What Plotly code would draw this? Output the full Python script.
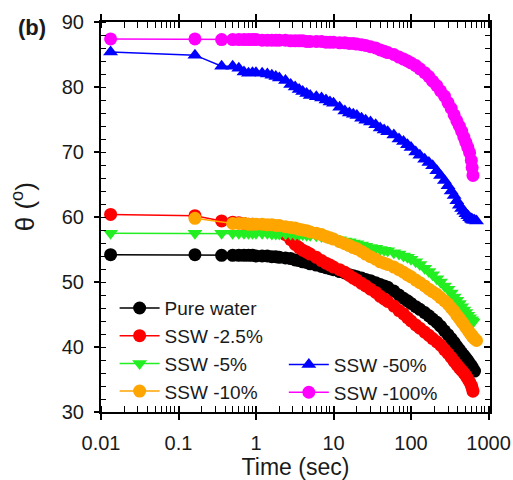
import plotly.graph_objects as go

# Time (s) sample points
time_s = [0.0133, 0.163, 0.36, 0.5, 0.6, 0.7, 0.8, 0.9, 1.0, 1.2,
          1.4, 1.6, 1.8, 2.0, 2.4, 2.8, 3.2, 3.6, 4, 4.5,
          5, 6, 7, 8, 9, 10, 12, 14, 16, 18,
          20, 23, 26, 30, 35, 40, 45, 50, 60, 70,
          80, 90, 100, 115, 130, 150, 170, 190, 215, 240,
          270, 300, 330, 360, 390, 420, 450, 480, 510, 540,
          570, 600, 615, 630, 660, 700]

pure_water = [54.2, 54.2, 54.1, 54.1, 54.1, 54.1, 54.1, 54.1, 54.0, 54.0,
              54.0, 53.9, 53.9, 53.8, 53.7, 53.6, 53.4, 53.3, 53.1, 53.0,
              52.8, 52.6, 52.4, 52.2, 52.05, 51.9, 51.6, 51.4, 51.1, 50.95,
              50.8, 50.6, 50.4, 50.2, 49.9, 49.6, 49.4, 49.2, 48.6, 48.0,
              47.5, 47.1, 46.7, 46.2, 45.8, 45.3, 44.8, 44.3, 43.8, 43.2,
              42.5, 41.9, 41.3, 40.7, 40.1, 39.6, 39.1, 38.7, 38.3, 37.9,
              37.5, 37.1, 36.9, 36.6, 36.3, None]

ssw_2_5 = [60.4, 60.2, 59.4, 59.2, 59.1, 59.0, 58.9, 58.9, 58.8, 58.7,
           58.5, 58.3, 58.1, 57.9, 57.3, 56.5, 55.8, 55.3, 54.9, 54.6,
           54.3, 53.8, 53.3, 52.9, 52.6, 52.3, 51.9, 51.5, 51.0, 50.6,
           50.3, 49.8, 49.4, 48.9, 48.4, 47.8, 47.4, 47.0, 46.3, 45.6,
           45.1, 44.5, 44.0, 43.4, 42.9, 42.3, 41.8, 41.3, 40.8, 40.3,
           39.6, 39.0, 38.4, 37.8, 37.3, 36.8, 36.4, 36.0, 35.6, 35.1,
           34.6, 34.1, 33.7, 33.2, None, None]

ssw_5 = [57.5, 57.5, 57.5, 57.5, 57.5, 57.5, 57.5, 57.5, 57.5, 57.5,
         57.5, 57.4, 57.4, 57.4, 57.4, 57.4, 57.3, 57.3, 57.3, 57.2,
         57.2, 57.1, 57.0, 56.9, 56.8, 56.7, 56.5, 56.3, 56.2, 56.0,
         55.9, 55.7, 55.5, 55.3, 55.2, 55.0, 54.9, 54.8, 54.5, 54.3,
         54.0, 53.8, 53.5, 53.1, 52.7, 52.1, 51.6, 51.1, 50.5, 50.0,
         49.4, 48.9, 48.3, 47.7, 47.2, 46.7, 46.2, 45.7, 45.3, 44.9,
         44.5, 44.2, 44.0, 43.8, None, None]

ssw_10 = [None, 59.8, None, 59.0, 59.0, 59.0, 58.9, 58.9, 58.9, 58.9,
          58.8, 58.8, 58.7, 58.7, 58.5, 58.4, 58.3, 58.1, 58.0, 57.9,
          57.7, 57.5, 57.3, 57.0, 56.8, 56.6, 56.2, 55.9, 55.6, 55.3,
          55.1, 54.7, 54.3, 53.9, 53.5, 53.1, 52.9, 52.7, 52.3, 51.9,
          51.5, 51.1, 50.8, 50.3, 49.9, 49.4, 48.9, 48.5, 48.1, 47.6,
          47.1, 46.6, 46.0, 45.5, 44.9, 44.4, 43.9, 43.5, 43.0, 42.6,
          42.2, 41.9, 41.7, 41.5, 41.3, 41.0]

ssw_50 = [85.4, 84.9, 83.2, 83.2, 82.9, 82.3, 82.1, 82.2, 82.2, 82.1,
          82.0, 81.8, 81.6, 81.4, 81.0, 80.4, 80.0, 79.6, 79.3, 79.0,
          78.7, 78.5, 78.3, 78.0, 77.7, 77.5, 76.9, 76.3, 76.0, 75.8,
          75.6, 75.2, 74.9, 74.6, 74.2, 73.7, 73.4, 73.1, 72.6, 72.0,
          71.6, 71.1, 70.7, 70.0, 69.5, 68.9, 68.4, 67.9, 67.1, 66.4,
          65.6, 64.8, 64.0, 63.3, 62.5, 61.8, 61.3, 60.9, 60.5, 60.2,
          59.9, 59.7, 59.6, 59.5, 59.5, 59.4]

ssw_100 = [87.4, 87.4, 87.3, 87.3, 87.3, 87.3, 87.3, 87.3, 87.3, 87.2,
           87.2, 87.2, 87.2, 87.2, 87.2, 87.1, 87.1, 87.1, 87.1, 87.0,
           87.0, 87.0, 87.0, 86.9, 86.9, 86.9, 86.8, 86.8, 86.7, 86.7,
           86.6, 86.5, 86.4, 86.2, 86.0, 85.7, 85.5, 85.3, 85.0, 84.6,
           84.3, 84.0, 83.7, 83.3, 82.8, 82.2, 81.6, 80.9, 80.2, 79.4,
           78.6, 77.6, 76.7, 75.7, 74.8, 74.0, 73.2, 72.3, 71.5, 70.7,
           69.9, 68.7, 67.6, 66.4, None, None]

series_names = ["Pure water", "SSW -2.5%", "SSW -5%", "SSW -10%", "SSW -50%", "SSW -100%"]
series_values = [pure_water, ssw_2_5, ssw_5, ssw_10, ssw_50, ssw_100]
series_colors = ["#000000", "#ff0000", "#22ee22", "#ffa500", "#0000ff", "#ff00ff"]
series_symbols = ["circle", "circle", "triangle-down", "circle", "triangle-up", "circle"]
series_legend = ["legend", "legend", "legend", "legend", "legend2", "legend2"]

x_tick_vals = [0.01, 0.1, 1, 10, 100, 1000]
x_tick_text = ["0.01", "0.1", "1", "10", "100", "1000"]
x_minor_vals = [m * d for d in [0.01, 0.1, 1, 10, 100, 1000] for m in range(2, 10)]

fig = go.Figure()
for name, vals, col, sym, leg in zip(series_names, series_values, series_colors,
                                     series_symbols, series_legend):
    fig.add_trace(go.Scatter(
        x=time_s, y=vals, mode="lines+markers", name=name, connectgaps=True,
        line=dict(color=col, width=1.5),
        marker=dict(symbol=sym, size=13, color=col, line=dict(width=0)),
        legend=leg))

# helper trace for right-hand axis ticks
fig.add_trace(go.Scatter(x=[1], y=[None], yaxis="y2", showlegend=False,
                         hoverinfo="skip", mode="markers"))

font_family = "Liberation Sans, Arial, sans-serif"
fig.update_layout(
    width=513, height=480,
    margin=dict(l=101, r=23, t=22, b=68),
    plot_bgcolor="white", paper_bgcolor="white",
    font=dict(family=font_family, color="#1a1a1a", size=19),
    xaxis=dict(
        type="log", range=[-2, 3.019], automargin=False,
        tickmode="array", tickvals=x_tick_vals, ticktext=x_tick_text,
        ticks="outside", ticklen=6, tickwidth=1.5, tickcolor="black",
        showline=True, linewidth=2, linecolor="black", mirror="allticks",
        minor=dict(tickmode="array", tickvals=x_minor_vals, ticks="inside",
                   ticklen=5, tickwidth=1, tickcolor="black", showgrid=False),
        showgrid=False, zeroline=False,
        tickfont=dict(size=20), ticklabelstandoff=6,
        title=dict(text="Time (sec)", font=dict(size=23), standoff=2),
    ),
    yaxis=dict(
        range=[30, 90], dtick=10, tick0=30, automargin=False,
        ticks="outside", ticklen=5, tickwidth=1.5, tickcolor="black",
        showline=True, linewidth=2, linecolor="black", mirror=True,
        minor=dict(dtick=2, ticks="inside", ticklen=5, tickwidth=1,
                   tickcolor="black", showgrid=False),
        showgrid=False, zeroline=False,
        tickfont=dict(size=20), ticklabelstandoff=6,
    ),
    yaxis2=dict(
        overlaying="y", side="right", anchor="x", automargin=False,
        range=[30, 90], dtick=10, tick0=30,
        ticks="inside", ticklen=6, tickwidth=1.5, tickcolor="black",
        showticklabels=False, showline=False, showgrid=False, zeroline=False,
        minor=dict(dtick=2, ticks="inside", ticklen=5, tickwidth=1,
                   tickcolor="black", showgrid=False),
    ),
    legend=dict(x=0.035, y=0.315, xanchor="left", yanchor="top",
                bgcolor="rgba(0,0,0,0)", font=dict(size=19),
                itemwidth=40, tracegroupgap=0),
    legend2=dict(x=0.47, y=0.17, xanchor="left", yanchor="top",
                 bgcolor="rgba(0,0,0,0)", font=dict(size=19),
                 itemwidth=40, tracegroupgap=0),
    annotations=[
        dict(text="θ (<sup>o</sup>)", xref="paper", yref="paper",
             x=-0.2005, y=0.525, xanchor="center", yanchor="middle",
             textangle=-90, showarrow=False, font=dict(size=26)),
        dict(text="<b>(b)</b>", xref="paper", yref="paper",
             x=-0.177, y=0.985, xanchor="center", yanchor="middle",
             showarrow=False, font=dict(size=22)),
    ],
)

fig.write_html("out.html")
